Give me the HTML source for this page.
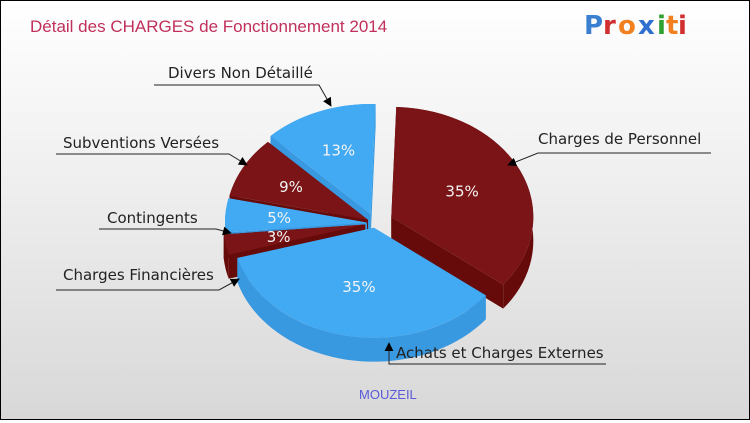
<!DOCTYPE html>
<html><head><meta charset="utf-8"><style>
html,body{margin:0;padding:0}
body{width:750px;height:420px;overflow:hidden;font-family:"DejaVu Sans","Liberation Sans",sans-serif}
#frame{position:absolute;left:0;top:0;width:748px;height:418px;border:1px solid #000;background:linear-gradient(#ffffff,#f4f4f4 30%,#d8d8d8)}
</style></head><body>
<div id="frame">
<svg id="svg" width="748" height="418" xmlns="http://www.w3.org/2000/svg">
<defs><marker id="ah" viewBox="0 0 10 10" refX="9" refY="5" markerWidth="9" markerHeight="9" orient="auto"><path d="M0,0 L10,5 L0,10 z" fill="#000"/></marker></defs>
<text x="29" y="31" font-size="17" fill="#c0305a" font-family="Liberation Sans, sans-serif">Détail des CHARGES de Fonctionnement 2014</text>
<g font-family="DejaVu Sans, sans-serif" font-size="26" font-weight="bold">
<text x="583" y="33" fill="#3a7fd0">P</text><text x="602" y="33" fill="#d03030">r</text><text x="617" y="33" fill="#f08020">o</text><text x="637" y="33" fill="#2f6fd0">x</text><text x="656" y="33" fill="#30a030">i</text><text x="665" y="33" fill="#f08020">t</text><text x="677" y="33" fill="#d03030">i</text>
</g>
<g id="pie"></g>
<g id="labels" font-size="15" fill="#222" font-family="DejaVu Sans, sans-serif"></g>
<text x="358" y="398" font-size="13" fill="#5a5ad8" font-family="Liberation Sans, sans-serif">MOUZEIL</text>
</svg></div>
<script>
const categories=["Charges de Personnel","Achats et Charges Externes","Charges Financières","Contingents","Subventions Versées","Divers Non Détaillé"];
const values=[35,35,3,5,9,13];
const pctLabels=["35%","35%","3%","5%","9%","13%"];
const NS="http://www.w3.org/2000/svg";
const cx=374,cy=222,rx=142,ry=110,depth=24,startDeg=-88;
const topCol=["#7a1416","#42aaf2"],sideCol=["#660a0a","#3898e0"];
const explode=[18,6,10,8,8,12];
const total=values.reduce((a,b)=>a+b,0);
const pie=document.getElementById('pie');
function pt(x0,y0,a,dz){return [x0+rx*Math.cos(a),y0+ry*Math.sin(a)+dz];}
let slices=[],acc=startDeg*Math.PI/180;
values.forEach((v,i)=>{const a0=acc,a1=acc+v/total*2*Math.PI;acc=a1;const m=(a0+a1)/2;
 slices.push({i,a0,a1,m,ox:cx+explode[i]*Math.cos(m),oy:cy+explode[i]*Math.sin(m)*0.8});});
function mk(tag,attrs,name,parent){const e=document.createElementNS(NS,tag);for(const k in attrs)e.setAttribute(k,attrs[k]);
 
 
 (parent||pie).appendChild(e);return e;}
const order=slices.slice().sort((a,b)=>Math.sin(a.m)-Math.sin(b.m));
order.forEach(s=>{const c=s.i%2,g=mk('g',{},'slice-'+s.i);
 [s.a0,s.a1].forEach((a,k)=>{const p=pt(s.ox,s.oy,a,0),q=pt(s.ox,s.oy,a,depth);
  mk('path',{d:`M${s.ox},${s.oy}L${p[0]},${p[1]}L${q[0]},${q[1]}L${s.ox},${s.oy+depth}Z`,fill:sideCol[c]},'slice-wall-'+s.i+'-'+k,g);});
 let d='',n=40,pts=[],ptsB=[];
 for(let j=0;j<=n;j++){const a=s.a0+(s.a1-s.a0)*j/n;pts.push(pt(s.ox,s.oy,a,0));ptsB.push(pt(s.ox,s.oy,a,depth));}
 d='M'+pts.map(p=>p.join(',')).join('L')+'L'+ptsB.reverse().map(p=>p.join(',')).join('L')+'Z';
 mk('path',{d,fill:sideCol[c]},'slice-side-'+s.i,g);
 const large=(s.a1-s.a0)>Math.PI?1:0,p0=pt(s.ox,s.oy,s.a0,0),p1=pt(s.ox,s.oy,s.a1,0);
 mk('path',{d:`M${s.ox},${s.oy}L${p0[0]},${p0[1]}A${rx},${ry} 0 ${large} 1 ${p1[0]},${p1[1]}Z`,fill:topCol[c]},'slice-top-'+s.i,g);
});
slices.forEach(s=>{const r=s.i<2?0.55:0.62;const x=s.ox+rx*r*Math.cos(s.m),y=s.oy+ry*r*Math.sin(s.m)+5;
 const t=mk('text',{x,y,'text-anchor':'middle','font-size':15,fill:'#f4f4f4','font-family':'DejaVu Sans, sans-serif'},'pct-label-'+s.i,document.getElementById('svg'));t.textContent=pctLabels[s.i];});
const L=document.getElementById('labels');
const lab=[[0,537,143,[[710,152],[537,152],[507,164]]],[1,395,357,[[605,363],[388,363],[388,342]]],
[2,62,279,[[55,289],[218,289],[238,278]]],[3,106,222,[[98,228],[215,228],[230,232]]],
[4,62,147,[[55,153],[228,153],[246,164]]],[5,167,77,[[153,84],[318,84],[330,105]]]];
lab.forEach(([i,x,y,p])=>{const t=mk('text',{x,y},'label-'+i,L);t.textContent=categories[i];
 mk('polyline',{points:p.map(q=>q.join(',')).join(' '),fill:'none',stroke:'#222','stroke-width':1,'marker-end':'url(#ah)'},'leader-line-'+i,L);});
</script>
</body></html>
